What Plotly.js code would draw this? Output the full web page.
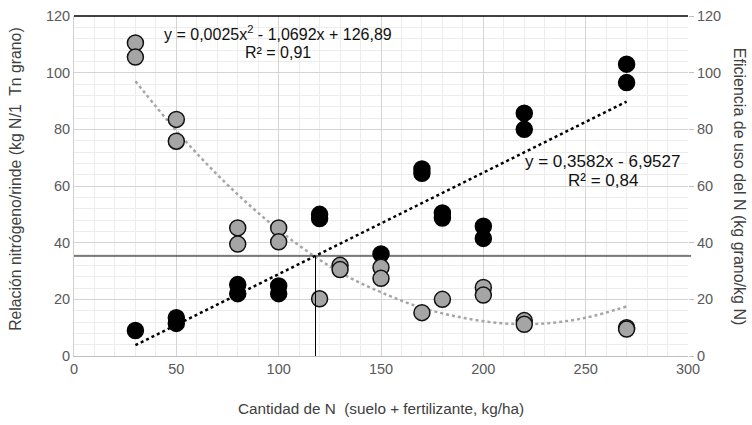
<!DOCTYPE html>
<html><head><meta charset="utf-8">
<script src="https://cdn.plot.ly/plotly-3.0.1.min.js"></script>
<style>html,body{margin:0;padding:0;background:#fff}#c{width:752px;height:425px}</style>
</head><body><div id="c"></div>
<script>
// Relación nitrógeno/rinde (left axis, black)
const relX = [30, 50, 50, 80, 80, 100, 100, 120, 120, 150, 170, 170, 180, 180, 200, 200, 220, 220, 270, 270];
const relY = [9, 13.5, 11.5, 25.2, 22, 24.7, 22, 50, 48.5, 36, 66, 64.5, 50.5, 48.7, 45.8, 41.5, 85.7, 80, 103, 96.5];
// Eficiencia de uso del N (right axis, gray)
const efX = [30, 30, 50, 50, 80, 80, 100, 100, 120, 130, 130, 150, 150, 170, 180, 200, 200, 220, 220, 270, 270];
const efY = [110.5, 105.5, 83.5, 75.8, 45.2, 39.5, 45.2, 40.3, 20.2, 32, 30.5, 31.3, 27.4, 15.3, 20, 24.2, 21.5, 12.5, 11.2, 10, 9.5];
// Trendlines
const linTrendX = [30, 270];
const linTrendY = [3.8, 89.8];
const quadTrendX = [30, 50, 70, 90, 110, 130, 150, 170, 190, 210, 230, 250, 270];
const quadTrendY = [97, 79.5, 64, 50.5, 39, 29.5, 22.5, 17, 13.5, 11.5, 11.5, 13.5, 17.5];
// Reference lines
const refX = 118;
const refY = 35.3;
const xTicks = [0, 50, 100, 150, 200, 250, 300];
const yTicks = [0, 20, 40, 60, 80, 100, 120];

const F = "Liberation Sans, Arial, sans-serif";
const traces = [
  {x: linTrendX, y: linTrendY, type: 'scatter', mode: 'lines', yaxis: 'y',
   line: {color: '#000', width: 2.5, dash: 'dot'}, hoverinfo: 'skip'},
  {x: relX, y: relY, type: 'scatter', mode: 'markers', yaxis: 'y',
   marker: {size: 16, color: '#000', line: {color: '#000', width: 1.5}}},
  {x: quadTrendX, y: quadTrendY, type: 'scatter', mode: 'lines', yaxis: 'y2',
   line: {color: '#a6a6a6', width: 2.5, dash: 'dot', shape: 'spline'}, hoverinfo: 'skip'},
  {x: efX, y: efY, type: 'scatter', mode: 'markers', yaxis: 'y2',
   marker: {size: 16, color: '#a5a5a5', line: {color: '#111', width: 1.5}}}
];
const layout = {
  width: 752, height: 425, showlegend: false,
  paper_bgcolor: '#fff', plot_bgcolor: '#fff',
  margin: {l: 74, r: 64, t: 16, b: 69},
  font: {family: F, size: 14, color: '#404040'},
  xaxis: {range: [0, 300], tickvals: xTicks, ticks: '', showline: true, linecolor: '#bfbfbf', linewidth: 1,
    gridcolor: '#d4d4d4', gridwidth: 1, zeroline: false,
    minor: {dtick: 10, showgrid: true, gridcolor: '#ececec', gridwidth: 1},
    tickfont: {size: 14.5, color: '#595959'},
    title: {text: 'Cantidad de N\u00a0 (suelo + fertilizante, kg/ha)', font: {size: 15.3, color: '#404040'}, standoff: 26}},
  yaxis: {range: [0, 120], tickvals: yTicks, ticks: '', showline: true, linecolor: '#d0d0d0', linewidth: 1,
    gridcolor: '#d4d4d4', gridwidth: 1, zeroline: false,
    minor: {dtick: 4, showgrid: true, gridcolor: '#ececec', gridwidth: 1},
    tickfont: {size: 14.5, color: '#595959'}},
  yaxis2: {range: [0, 120], tickvals: yTicks, overlaying: 'y', side: 'right', ticks: 'outside', ticklen: 5,
    tickcolor: '#bfbfbf', showline: false, showgrid: false, zeroline: false,
    tickfont: {size: 14.5, color: '#595959'}},
  shapes: [
    {type: 'line', xref: 'paper', yref: 'paper', x0: 0, x1: 1, y0: 1, y1: 1, line: {color: '#000', width: 1.5}},
    {type: 'line', xref: 'paper', yref: 'y', x0: 0, x1: 1.005, y0: refY, y1: refY, line: {color: '#000', width: 1}},
    {type: 'line', xref: 'x', yref: 'y', x0: refX, x1: refX, y0: 0, y1: refY, line: {color: '#000', width: 1}}
  ],
  annotations: [
    {xref: 'paper', yref: 'paper', x: -0.095, y: 0.52, xanchor: 'center', yanchor: 'middle', showarrow: false,
     textangle: -90, text: 'Relación nitrógeno/rinde (kg N/1\u00a0 Tn grano)', font: {size: 15.8, color: '#404040'}},
    {xref: 'paper', yref: 'paper', x: 1.085, y: 0.5, xanchor: 'center', yanchor: 'middle', showarrow: false,
     textangle: 90, text: 'Eficiencia de uso del N (kg grano/kg N)', font: {size: 16, color: '#404040'}},
    {xref: 'x', yref: 'y', x: 99.8, y: 114, showarrow: false, xanchor: 'center',
     text: 'y = 0,0025x<sup>2</sup> - 1,0692x + 126,89', font: {size: 16, color: '#111'}},
    {xref: 'x', yref: 'y', x: 99.8, y: 107.2, showarrow: false, xanchor: 'center',
     text: 'R² = 0,91', font: {size: 16, color: '#111'}},
    {xref: 'x', yref: 'y', x: 258.3, y: 68.8, showarrow: false, xanchor: 'center',
     text: 'y = 0,3582x - 6,9527', font: {size: 17, color: '#111'}},
    {xref: 'x', yref: 'y', x: 258.3, y: 62.1, showarrow: false, xanchor: 'center',
     text: 'R² = 0,84', font: {size: 17, color: '#111'}}
  ]
};
Plotly.newPlot('c', traces, layout, {staticPlot: true, displayModeBar: false});
</script></body></html>
